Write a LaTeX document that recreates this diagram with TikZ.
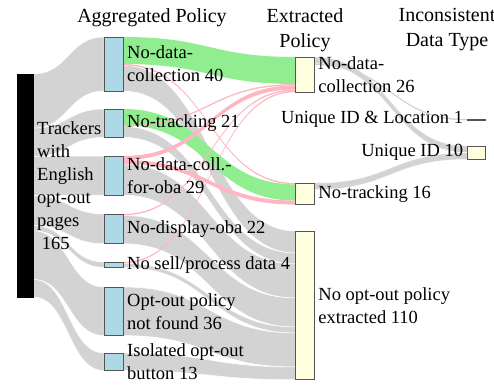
\documentclass[tikz,border=0pt]{standalone}
\usepackage{fontspec}
\setmainfont{Liberation Serif}
\usetikzlibrary{positioning, calc}

\definecolor{flowgray}{HTML}{D3D3D3}
\definecolor{flowgreen}{HTML}{90EE90}
\definecolor{flowpink}{HTML}{FFB6C1}
\definecolor{aggblue}{HTML}{ADD8E6}
\definecolor{extyellow}{HTML}{FFFFE0}
\definecolor{nodeline}{HTML}{555555}

\pgfdeclarelayer{flows}
\pgfsetlayers{flows,main}

% band from right side of #1 (offsets #2..#3) to left side of #4 (offsets #5..#6)
\newcommand{\flowband}[7]{%
  \coordinate (s1) at ([yshift=-#2pt]#1.north east);
  \coordinate (s2) at ([yshift=-#3pt]#1.north east);
  \coordinate (t1) at ([yshift=-#5pt]#4.north west);
  \coordinate (t2) at ([yshift=-#6pt]#4.north west);
  \path[#7] (s1) .. controls ($(s1)!.5!(t1 |- s1)$) and ($(t1)!.5!(s1 |- t1)$) .. (t1)
    -- (t2) .. controls ($(t2)!.5!(s2 |- t2)$) and ($(s2)!.5!(t2 |- s2)$) .. (s2) -- cycle;
}

\begin{document}
\begin{tikzpicture}[
    x=1pt, y=-1pt,
    srcbox/.style={draw=black, fill=black, minimum width=16pt, inner sep=0, outer sep=0},
    aggbox/.style={draw=nodeline, fill=aggblue, line width=0.8pt, minimum width=19pt, inner sep=0, outer sep=0},
    extbox/.style={draw=nodeline, fill=extyellow, line width=0.8pt, minimum width=18.5pt, inner sep=0, outer sep=0},
    lbl/.style={font=\fontsize{18.5}{23}\selectfont, align=left, inner sep=0, node distance=4pt},
    hdr/.style={font=\fontsize{20}{25}\selectfont, align=center, inner sep=0, anchor=north},
    graylink/.style={fill=flowgray, draw=white, line width=0.5pt},
    graythin/.style={fill=flowgray},
    greenlink/.style={fill=flowgreen},
    pinklink/.style={fill=flowpink}
  ]
\useasboundingbox (0,0) rectangle (494,387);

% Nodes
\node[srcbox, minimum height=223pt] (src) at (25,185.5) {};
\node[aggbox, minimum height=54.1pt] (a1) at (113.5,64.05) {};
\node[aggbox, minimum height=28.4pt] (a2) at (113.5,123.2) {};
\node[aggbox, minimum height=39.2pt] (a3) at (113.5,175.6) {};
\node[aggbox, minimum height=29.7pt] (a4) at (113.5,228.85) {};
\node[aggbox, minimum height=5.4pt] (a5) at (113.5,264.7) {};
\node[aggbox, minimum height=48.6pt] (a6) at (113.5,311.3) {};
\node[aggbox, minimum height=17.6pt] (a7) at (113.5,361.8) {};
\node[extbox, minimum height=35.1pt] (e1) at (305,74.55) {};
\node[extbox, minimum height=21.6pt] (e2) at (305,193.8) {};
\node[extbox, minimum height=148.7pt] (e3) at (305,305.35) {};
\node[extbox, minimum height=1.35pt] (i1) at (476.5,119.7) {};
\node[extbox, minimum height=13.5pt] (i2) at (476.5,152.75) {};

% Flows
\begin{pgfonlayer}{flows}
\flowband{src}{0}{54.1}{a1}{0}{54.1}{graylink}
\flowband{src}{54.1}{82.5}{a2}{0}{28.4}{graylink}
\flowband{src}{82.5}{121.7}{a3}{0}{39.2}{graylink}
\flowband{src}{121.7}{151.4}{a4}{0}{29.7}{graylink}
\flowband{src}{151.4}{156.8}{a5}{0}{5.4}{graylink}
\flowband{src}{156.8}{205.4}{a6}{0}{48.6}{graylink}
\flowband{src}{205.4}{223}{a7}{0}{17.6}{graylink}

\flowband{a1}{28.35}{54.1}{e3}{0}{22}{graylink}
\flowband{a2}{17.55}{28.4}{e3}{22}{33}{graylink}
\flowband{a3}{8.1}{39.2}{e3}{33}{67}{graylink}
\flowband{a4}{1.35}{29.7}{e3}{67}{96}{graylink}
\flowband{a5}{1.35}{5.4}{e3}{96}{102}{graylink}
\flowband{a6}{0}{48.6}{e3}{102}{136}{graylink}
\flowband{a7}{0}{17.6}{e3}{136}{148.7}{graylink}

\flowband{e1}{0}{6.75}{i2}{0}{6.75}{graylink}
\flowband{e1}{6.75}{8.1}{i1}{0}{1.35}{graythin}
\flowband{e2}{0}{6.75}{i2}{6.75}{13.5}{graylink}

\flowband{a1}{0}{27}{e1}{0}{27}{greenlink}
\flowband{a2}{0}{16.2}{e2}{1.35}{17.55}{greenlink}

\flowband{a1}{27}{28.35}{e2}{0}{1.35}{pinklink}
\flowband{a2}{16.2}{17.55}{e1}{27}{28.35}{pinklink}
\flowband{a3}{0}{4.05}{e1}{28.35}{32.4}{pinklink}
\flowband{a3}{4.05}{8.1}{e2}{17.55}{21.6}{pinklink}
\flowband{a4}{0}{1.35}{e1}{32.4}{33.75}{pinklink}
\flowband{a5}{0}{1.35}{e1}{33.75}{35.1}{pinklink}
\end{pgfonlayer}

% Labels
\node[hdr] (hagg) at (152,8) {Aggregated Policy};
\node[hdr] (hext) at (305,8) {Extracted\\Policy};
\node[hdr] (hinc) at (447,8) {Inconsistent\\Data Type};

\node[lbl, right=of src] (lsrc) {Trackers\\with\\English\\opt-out\\pages\\\hspace*{0.25em}165};
\node[lbl, right=of a1] (la1) {No-data-\\collection 40};
\node[lbl, right=of a2] (la2) {No-tracking 21};
\node[lbl, right=of a3] (la3) {No-data-coll.-\\for-oba 29};
\node[lbl, right=of a4] (la4) {No-display-oba 22};
\node[lbl, right=of a5] (la5) {No sell/process data 4};
\node[lbl, right=of a6] (la6) {Opt-out policy\\not found 36};
\node[lbl, right=of a7] (la7) {Isolated opt-out\\button 13};
\node[lbl, right=of e1] (le1) {No-data-\\collection 26};
\node[lbl, right=of e2] (le2) {No-tracking 16};
\node[lbl, right=of e3] (le3) {No opt-out policy\\extracted 110};
\node[lbl, align=right, left=of i1] (li1) {Unique ID \& Location 1};
\node[lbl, align=right, left=of i2] (li2) {Unique ID 10};

\end{tikzpicture}
\end{document}
